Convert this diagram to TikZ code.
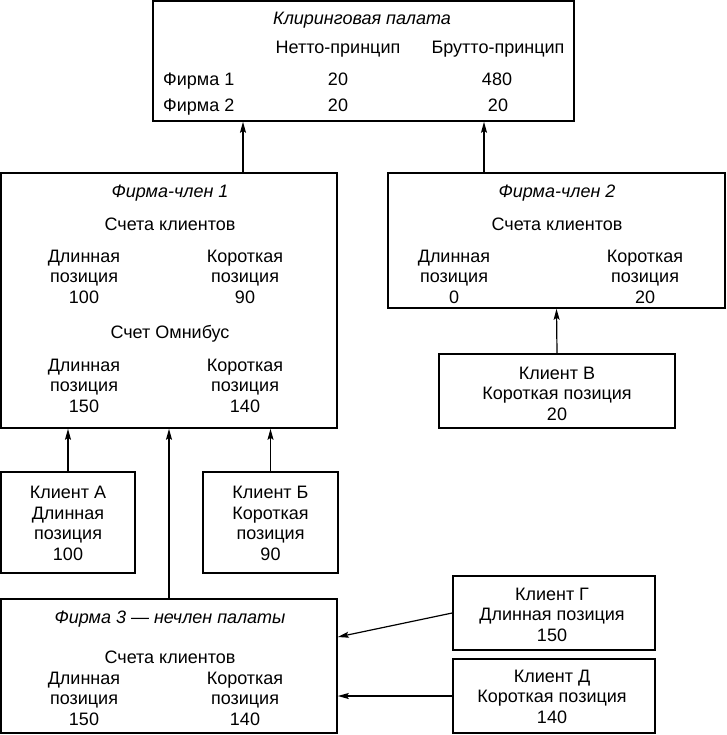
\documentclass[tikz,border=0pt]{standalone}
\usepackage{fontspec}
\setmainfont{Liberation Sans}
\usetikzlibrary{arrows.meta}
\begin{document}
\begin{tikzpicture}[x=1pt,y=-1pt,
  box/.style={draw, line width=1.6pt, inner sep=0pt, rectangle},
  t/.style={inner sep=0pt, anchor=base, align=center, font=\fontsize{18}{20.5}\selectfont},
  ti/.style={t, font=\fontsize{18}{20.5}\selectfont\itshape},
  arr/.style={line width=1.2pt, -{Stealth[length=11pt,width=6pt,inset=2pt]}}]
\useasboundingbox (0,0) rectangle (726,735);

% boxes
\node[box, minimum width=421pt, minimum height=120pt] (clearing) at (363.5,61) {};
\node[box, minimum width=336pt, minimum height=255pt] (firm1) at (169,300.5) {};
\node[box, minimum width=337pt, minimum height=135pt] (firm2) at (556.5,240.5) {};
\node[box, minimum width=236pt, minimum height=74pt] (clientV) at (557,391) {};
\node[box, minimum width=134pt, minimum height=101pt] (clientA) at (68,522.5) {};
\node[box, minimum width=135pt, minimum height=101pt] (clientB) at (270.5,522.5) {};
\node[box, minimum width=336pt, minimum height=134pt] (firm3) at (169,666) {};
\node[box, minimum width=202pt, minimum height=74pt] (clientG) at (554,613) {};
\node[box, minimum width=202pt, minimum height=74pt] (clientD) at (554,696) {};

% clearing house texts
\node[ti] (cTitle) at (362,25) {Клиринговая палата};
\node[t] (cNet) at (338,54) {Нетто-принцип};
\node[t] (cGross) at (498,54) {Брутто-принцип};
\node[t, anchor=base west] (cF1) at (163,86) {Фирма 1};
\node[t, anchor=base west] (cF2) at (163,112) {Фирма 2};
\node[t] (cN1) at (338,86) {20};
\node[t] (cG1) at (497,86) {480};
\node[t] (cN2) at (338,112) {20};
\node[t] (cG2) at (498,112) {20};

% firm 1
\node[ti] (f1Title) at (170,197) {Фирма-член 1};
\node[t] (f1Acc) at (170,230) {Счета клиентов};
\node[t] (f1L) at (84,303) {Длинная\\позиция\\100};
\node[t] (f1S) at (245,303) {Короткая\\позиция\\90};
\node[t] (f1Omni) at (170,338) {Счет Омнибус};
\node[t] (f1OL) at (84,412) {Длинная\\позиция\\150};
\node[t] (f1OS) at (245,412) {Короткая\\позиция\\140};

% firm 2
\node[ti] (f2Title) at (557,197) {Фирма-член 2};
\node[t] (f2Acc) at (557,230) {Счета клиентов};
\node[t] (f2L) at (454,303) {Длинная\\позиция\\0};
\node[t] (f2S) at (645,303) {Короткая\\позиция\\20};

% client V
\node[t] (vTxt) at (557,420) {Клиент В\\Короткая позиция\\20};

% clients A, B
\node[t] (aTxt) at (68,560) {Клиент А\\Длинная\\позиция\\100};
\node[t] (bTxt) at (270.5,560) {Клиент Б\\Короткая\\позиция\\90};

% firm 3
\node[ti] (f3Title) at (170,623) {Фирма 3 — нечлен палаты};
\node[t] (f3Acc) at (170,663) {Счета клиентов};
\node[t] (f3L) at (84,725) {Длинная\\позиция\\150};
\node[t] (f3S) at (245,725) {Короткая\\позиция\\140};

% clients G, D
\node[t] (gTxt) at (552,641) {Клиент Г\\Длинная позиция\\150};
\node[t] (dTxt) at (552,723) {Клиент Д\\Короткая позиция\\140};

% connectors
\coordinate (x1) at (243,0);
\coordinate (x2) at (484,0);
\coordinate (yg) at (0,637);
\draw[arr] (firm1.north -| x1) -- (clearing.south -| x1);
\draw[arr] (firm2.north -| x2) -- (clearing.south -| x2);
\draw[arr] (clientV.north) -- (firm2.south);
\draw[arr] (clientA.north) -- (clientA.north |- firm1.south);
\draw[arr] (clientB.north) -- (clientB.north |- firm1.south);
\draw[arr] (firm3.north) -- (firm1.south);
\draw[arr] (clientG.west) -- (firm3.east |- yg);
\draw[arr] (clientD.west) -- (clientD.west -| firm3.east);
\end{tikzpicture}
\end{document}
